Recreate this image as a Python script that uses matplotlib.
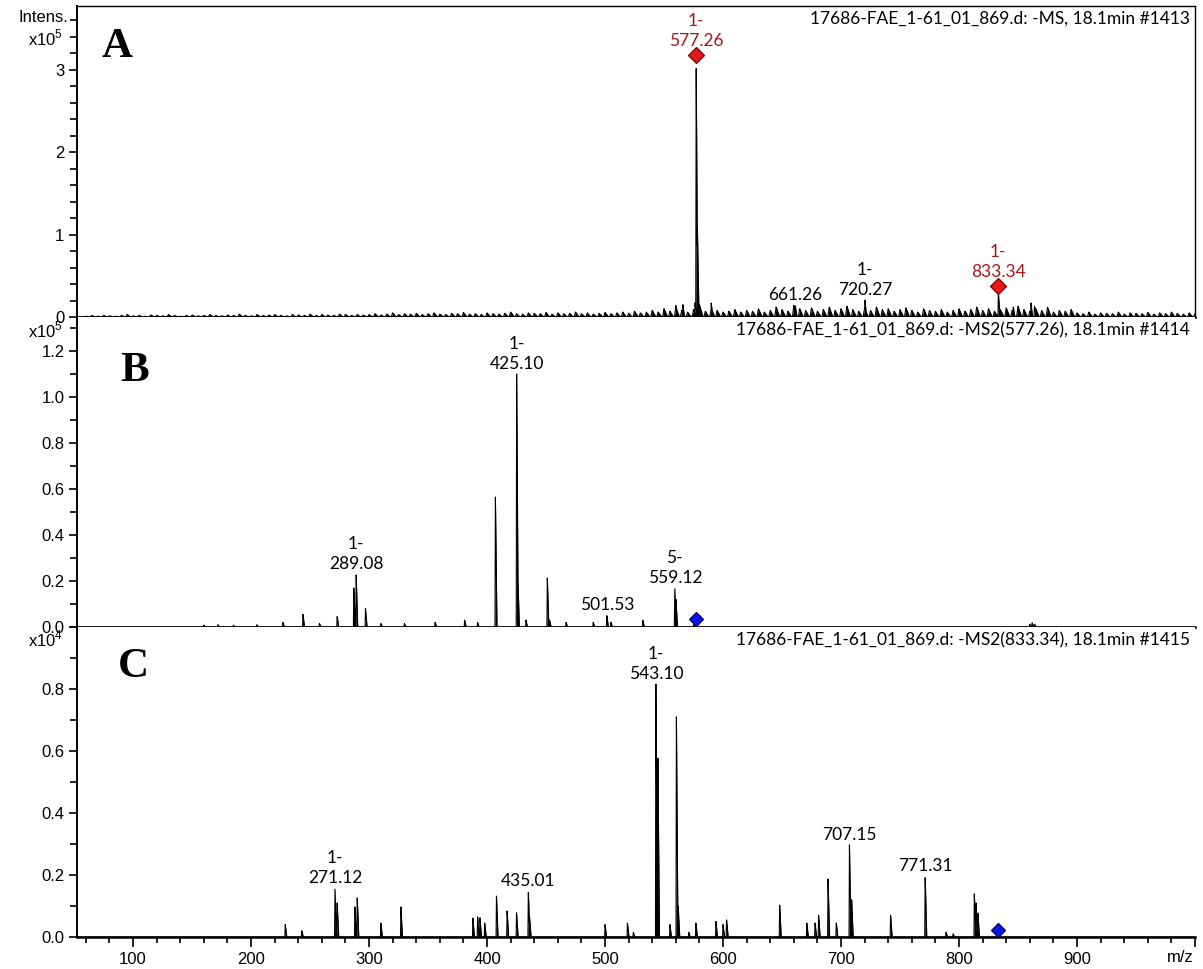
import numpy as np
import matplotlib.pyplot as plt
import matplotlib.transforms as mtrans
from matplotlib.ticker import MultipleLocator, FormatStrFormatter, FixedLocator, FixedFormatter

plt.rcParams['font.family'] = ['Liberation Sans', 'DejaVu Sans']
plt.rcParams['mathtext.fontset'] = 'custom'
plt.rcParams['mathtext.rm'] = 'Liberation Sans'

# ---- data (intensities in units of the axis multiplier) ----
# panel A : full MS, x10^5
a_mz = [560.0, 566.0, 576.3, 577.26, 578.3, 579.3, 590.0, 661.26, 720.27, 833.34, 834.3, 846.0, 861.0, 864.0]
a_int = [0.14, 0.15, 0.17, 3.10, 1.08, 0.12, 0.17, 0.14, 0.21, 0.30, 0.08, 0.12, 0.17, 0.13]
# baseline noise of panel A, one spike every 5 m/z from 60 to 1000
a_noise_start, a_noise_step = 60, 5
a_noise = [0.01, 0.02, 0.01, 0.02, 0.015, 0.01, 0.02, 0.03, 0.015, 0.02,
           0.01, 0.025, 0.02, 0.015, 0.03, 0.02, 0.01, 0.02, 0.025, 0.015,
           0.02, 0.03, 0.02, 0.015, 0.025, 0.02, 0.035, 0.02, 0.015, 0.03,
           0.02, 0.025, 0.03, 0.02, 0.015, 0.03, 0.025, 0.02, 0.035, 0.02,
           0.03, 0.025, 0.02, 0.035, 0.03, 0.02, 0.03, 0.025,
           0.03, 0.04, 0.025, 0.035, 0.05, 0.03, 0.04, 0.035, 0.045, 0.03,
           0.04, 0.05, 0.035, 0.03, 0.045, 0.04, 0.055, 0.035, 0.04, 0.03,
           0.05, 0.04, 0.035, 0.045, 0.06, 0.04, 0.035, 0.05, 0.045, 0.04,
           0.055, 0.035, 0.05, 0.04, 0.045, 0.06, 0.04, 0.05, 0.035, 0.045,
           0.055, 0.04, 0.05, 0.06, 0.045, 0.07, 0.05, 0.06,
           0.08, 0.06, 0.10, 0.07, 0.12, 0.08, 0.06, 0.09, 0.15, 0.07,
           0.10, 0.08, 0.06, 0.07, 0.09, 0.06, 0.08, 0.07, 0.10, 0.06,
           0.08, 0.12, 0.09, 0.07, 0.14, 0.10, 0.08, 0.11, 0.07, 0.09,
           0.12, 0.08, 0.10, 0.13, 0.09, 0.07, 0.11, 0.08, 0.12, 0.09,
           0.10, 0.07, 0.09, 0.11, 0.08, 0.06, 0.10, 0.08, 0.07, 0.09,
           0.06, 0.08, 0.10, 0.07, 0.09, 0.12, 0.08, 0.10, 0.07, 0.09,
           0.11, 0.08, 0.13, 0.09, 0.07, 0.10, 0.08, 0.12, 0.06, 0.08,
           0.07, 0.09,
           0.05, 0.04, 0.06, 0.035, 0.05, 0.045, 0.04, 0.06, 0.035, 0.05,
           0.045, 0.04, 0.055, 0.035, 0.05, 0.04, 0.06, 0.045, 0.035, 0.05,
           0.04]

# panel B : MS2(577.26), x10^5
b_mz = [160, 172, 185, 205, 227, 244, 258, 273, 287.1, 289.08, 297, 310, 330, 356, 381, 392,
        407.1, 425.10, 426.1, 433, 451.1, 453, 467, 490, 501.53, 505, 532, 559.12, 560.1,
        575, 860, 862, 864]
b_int = [0.008, 0.01, 0.008, 0.01, 0.02, 0.055, 0.015, 0.045, 0.17, 0.23, 0.08, 0.015, 0.015, 0.02, 0.03, 0.02,
         0.565, 1.10, 0.22, 0.03, 0.213, 0.03, 0.02, 0.02, 0.05, 0.02, 0.03, 0.17, 0.12,
         0.01, 0.012, 0.018, 0.012]

# panel C : MS2(833.34), x10^4
c_mz = [229, 243, 271.12, 273, 288, 290, 310, 327, 388, 392, 394, 398, 408, 417, 425, 435.01, 436,
        500, 519, 524, 543.10, 544.8, 555, 560.5, 562, 571, 577, 594, 600, 603, 648, 671, 678, 681,
        689, 696, 707.15, 709, 742, 771.31, 789, 795, 813, 814.5, 816]
c_int = [0.04, 0.02, 0.158, 0.11, 0.097, 0.126, 0.045, 0.097, 0.061, 0.065, 0.062, 0.045, 0.132, 0.084, 0.078, 0.148, 0.065,
         0.04, 0.045, 0.015, 0.816, 0.577, 0.04, 0.71, 0.10, 0.015, 0.045, 0.05, 0.04, 0.055, 0.103, 0.045, 0.045, 0.07,
         0.187, 0.045, 0.297, 0.12, 0.07, 0.197, 0.015, 0.01, 0.139, 0.11, 0.077]

a_lab_mz = [577.26, 661.26, 720.27, 833.34]
a_lab_txt = ['1-\n577.26', '661.26', '1-\n720.27', '1-\n833.34']
a_lab_red = [True, False, False, True]
b_lab_mz = [289.08, 425.10, 501.53, 559.12]
b_lab_txt = ['1-\n289.08', '1-\n425.10', '501.53', '5-\n559.12']
c_lab_mz = [271.12, 435.01, 543.10, 707.15, 771.31]
c_lab_txt = ['1-\n271.12', '435.01', '1-\n543.10', '707.15', '771.31']

precursor_a = [577.26, 833.34]
precursor_b = 577.26
precursor_c = 833.34

headers = ['17686-FAE_1-61_01_869.d: -MS, 18.1min #1413',
           '17686-FAE_1-61_01_869.d: -MS2(577.26), 18.1min #1414',
           '17686-FAE_1-61_01_869.d: -MS2(833.34), 18.1min #1415']
letters = ['A', 'B', 'C']

RED_TXT = '#a31a1a'
LABEL_FONT = ['Lato', 'DejaVu Sans']

W, H = 1203, 969
fig = plt.figure(figsize=(W / 100, H / 100), dpi=100)
left, right = 77, 1195
boxes = [(6, 317), (317, 627), (627, 937)]
axs = []
for top, bot in boxes:
    ax = fig.add_axes([left / W, 1 - bot / H, (right - left) / W, (bot - top) / H])
    axs.append(ax)

grid = np.arange(52.0, 1000.0, 0.05)


def profile(mz, inten, rise=0.35, fall=1.3):
    y = np.zeros_like(grid)
    for m, v in zip(mz, inten):
        y = np.maximum(y, np.interp(grid, [m - rise, m, m + fall], [0, v, 0], left=0, right=0))
    return y


a_noise_mz = a_noise_start + a_noise_step * np.arange(len(a_noise))
noise_prof = profile(a_noise_mz, a_noise, rise=1.2, fall=3.0)
spectra = [np.maximum(profile(a_mz, a_int), noise_prof),
           profile(b_mz, b_int),
           profile(c_mz, c_int)]
ylims = [3.77, 1.348, 1.0]

for i, ax in enumerate(axs):
    y = spectra[i]
    ax.fill_between(grid, 0, y, color='black', lw=0)
    ax.plot(grid, y, color='black', lw=0.8)
    ax.set_xlim(52.5, 1000)
    ax.set_ylim(0, ylims[i])
    for s in ['top', 'right']:
        ax.spines[s].set_visible(False)
    ax.spines['left'].set_linewidth(1.4)
    ax.spines['bottom'].set_linewidth(1.8)
    ax.tick_params(axis='y', which='major', direction='out', length=6, width=1.2, labelsize=12, pad=3)
    ax.tick_params(axis='y', which='minor', direction='out', length=5, width=1.2)
    ax.text(0.9955, 0.958, headers[i], transform=ax.transAxes, ha='right', va='center',
            fontsize=12.5, family=LABEL_FONT)
    ax.text([0.0224, 0.0385, 0.0367][i], [0.836, 0.794, 0.839][i], letters[i], transform=ax.transAxes,
            ha='left', va='baseline', fontsize=31, fontweight='bold', family='Liberation Serif')

# panel A frame
axs[0].spines['top'].set_visible(True)
axs[0].spines['right'].set_visible(True)
axs[0].spines['top'].set_linewidth(1.0)
axs[0].spines['right'].set_linewidth(1.0)

axs[0].yaxis.set_major_locator(MultipleLocator(1))
axs[0].yaxis.set_minor_locator(MultipleLocator(0.2))
axs[0].yaxis.set_major_formatter(FormatStrFormatter('%d'))
axs[1].yaxis.set_major_locator(MultipleLocator(0.2))
axs[1].yaxis.set_minor_locator(MultipleLocator(0.1))
axs[1].yaxis.set_major_formatter(FormatStrFormatter('%.1f'))
axs[2].yaxis.set_major_locator(FixedLocator([0.0, 0.2, 0.4, 0.6, 0.8]))
axs[2].yaxis.set_minor_locator(MultipleLocator(0.1))
axs[2].yaxis.set_major_formatter(FormatStrFormatter('%.1f'))

for ax in axs[:2]:
    ax.tick_params(axis='x', which='both', bottom=False, labelbottom=False)

xt = list(range(100, 1001, 100))
axs[2].xaxis.set_major_locator(FixedLocator(xt))
axs[2].xaxis.set_major_formatter(FixedFormatter([str(v) for v in xt[:-1]] + ['']))
axs[2].xaxis.set_minor_locator(MultipleLocator(20))
axs[2].tick_params(axis='x', which='major', direction='out', length=7, width=1.2, labelsize=12, pad=4)
axs[2].tick_params(axis='x', which='minor', direction='out', length=4, width=1.2)
fig.text(1180 / W, 1 - 958 / H, 'm/z', ha='center', va='center', fontsize=12)

# multiplier labels (the reference lets them touch the "0" of the panel above)
fig.text(68 / W, 1 - 22 / H, 'Intens.', ha='right', va='baseline', fontsize=12)
fig.text(63 / W, 1 - 45 / H, r'x10$^5$', ha='right', va='baseline', fontsize=12)
fig.text(63 / W, 1 - 337 / H, r'x10$^5$', ha='right', va='baseline', fontsize=12)
fig.text(63 / W, 1 - 646 / H, r'x10$^4$', ha='right', va='baseline', fontsize=12)


def label_peaks(ax, mz_list, int_list, lab_mz, lab_txt, colors, offsets):
    for m, t, c, off in zip(lab_mz, lab_txt, colors, offsets):
        h = int_list[int(np.argmin(np.abs(np.array(mz_list) - m)))]
        ax.annotate(t, xy=(m, h), xytext=(0, off), textcoords='offset points', ha='center',
                    va='bottom', fontsize=12.5, color=c, family=LABEL_FONT, linespacing=1.3)


label_peaks(axs[0], a_mz, a_int, a_lab_mz, a_lab_txt,
            [RED_TXT if r else 'black' for r in a_lab_red],
            [9 if r else 1.5 for r in a_lab_red])
label_peaks(axs[1], b_mz, b_int, b_lab_mz, b_lab_txt, ['black'] * 4, [1.5] * 4)
label_peaks(axs[2], c_mz, c_int, c_lab_mz, c_lab_txt, ['black'] * 5, [1.5] * 5)

# precursor markers
up = mtrans.offset_copy(axs[0].transData, fig=fig, x=0, y=4.5, units='points')
for m in precursor_a:
    h = a_int[int(np.argmin(np.abs(np.array(a_mz) - m)))]
    axs[0].plot([m], [h], marker='D', ms=8, mfc='#e0191b', mec='#7a0000', mew=0.9, transform=up,
                clip_on=False, zorder=5)
axs[1].plot([precursor_b], [0.035], marker='D', ms=7.5, mfc='#0a14e6', mec='#000070', mew=0.9, zorder=5)
axs[2].plot([precursor_c], [0.023], marker='D', ms=7.5, mfc='#0a14e6', mec='#000070', mew=0.9, zorder=5)

fig.savefig('out.png', dpi=100)
